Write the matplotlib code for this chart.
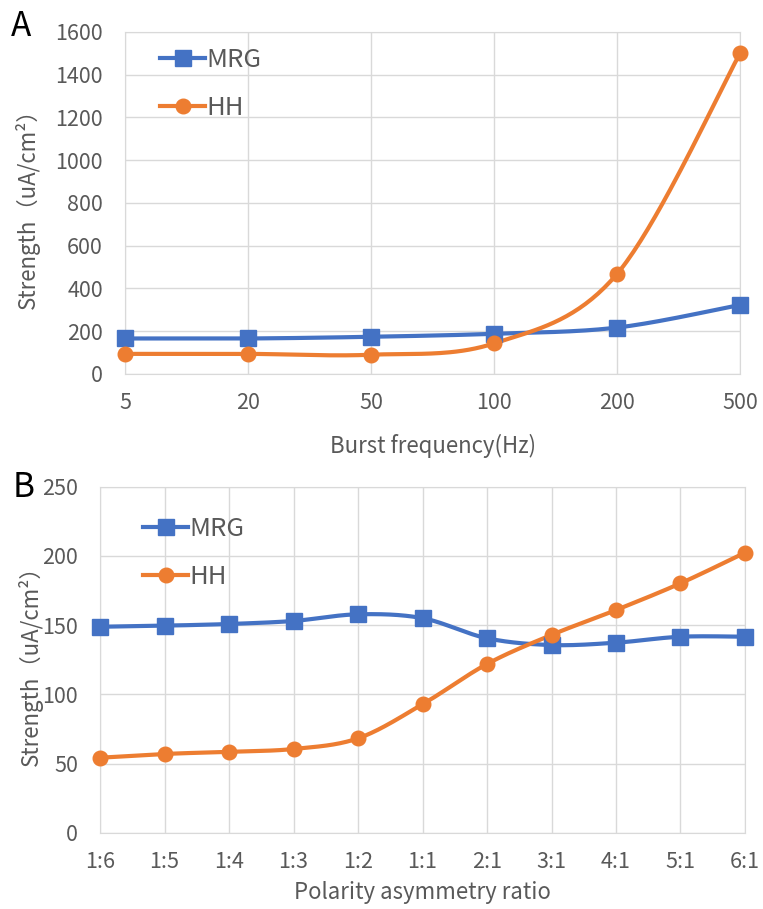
import matplotlib
matplotlib.use("Agg")
import matplotlib.pyplot as plt
from matplotlib.lines import Line2D
import numpy as np

plt.rcParams["font.family"] = ["Noto Sans CJK JP", "DejaVu Sans"]

BLUE = "#4472C4"
ORANGE = "#ED7D31"
GRID = "#D9D9D9"
TEXT = "#595959"

# panel A: burst frequency sweep
freq_labels = ["5", "20", "50", "100", "200", "500"]
freq_mrg = [166, 166, 174, 188, 217, 323]
freq_hh = [94, 94, 90, 143, 468, 1500]

# panel B: polarity asymmetry sweep
ratio_labels = ["1:6", "1:5", "1:4", "1:3", "1:2", "1:1", "2:1", "3:1", "4:1", "5:1", "6:1"]
ratio_mrg = [148.8, 149.6, 150.8, 153.0, 157.8, 155.0, 140.5, 135.6, 137.3, 141.6, 141.6]
ratio_hh = [54.2, 56.9, 58.5, 60.5, 68.2, 92.8, 121.9, 142.9, 160.9, 180.2, 202.3]


def smooth(y, n=40):
    """Catmull-Rom style bezier through the points (Excel 'smoothed line')."""
    p = np.column_stack([np.arange(len(y), dtype=float), np.asarray(y, float)])
    ext = np.vstack([p[0], p, p[-1]])
    out = []
    t = np.linspace(0, 1, n)[:, None]
    for i in range(len(p) - 1):
        p0, p1, p2, p3 = ext[i], ext[i + 1], ext[i + 2], ext[i + 3]
        c1 = p1 + (p2 - p0) / 6
        c2 = p2 - (p3 - p1) / 6
        seg = ((1 - t) ** 3 * p1 + 3 * (1 - t) ** 2 * t * c1
               + 3 * (1 - t) * t ** 2 * c2 + t ** 3 * p2)
        out.append(seg if i == 0 else seg[1:])
    seg = np.vstack(out)
    return seg[:, 0], seg[:, 1]


def panel(ax, labels, mrg, hh, ymax, ystep, xlabel, legend_xy):
    x = np.arange(len(labels))
    for vals, col, mk, ms in [(mrg, BLUE, "s", 11), (hh, ORANGE, "o", 10.5)]:
        sx, sy = smooth(vals)
        ax.plot(sx, sy, color=col, lw=3, solid_capstyle="round", clip_on=False, zorder=3)
        ax.plot(x, vals, ls="none", marker=mk, ms=ms, color=col, clip_on=False, zorder=4)
    ax.set_xlim(0, len(labels) - 1)
    ax.set_ylim(0, ymax)
    ax.set_xticks(x)
    ax.set_xticklabels(labels)
    ax.set_yticks(np.arange(0, ymax + 1, ystep))
    ax.grid(True, color=GRID, lw=1)
    ax.set_axisbelow(True)
    for s in ax.spines.values():
        s.set_color(GRID)
    ax.tick_params(length=0, labelsize=15.5, labelcolor=TEXT)
    ax.tick_params(axis="y", pad=16)
    ax.tick_params(axis="x", pad=13)
    ax.set_xlabel(xlabel, fontsize=16, color=TEXT)
    ax.set_ylabel("Strength（uA/cm²）", fontsize=16, color=TEXT)
    handles = [Line2D([], [], color=BLUE, lw=3, marker="s", ms=11),
               Line2D([], [], color=ORANGE, lw=3, marker="o", ms=10.5)]
    ax.legend(handles, ["MRG", "HH"], loc="upper left", bbox_to_anchor=legend_xy,
              frameon=False, fontsize=18.5, labelcolor=TEXT, handlelength=1.75,
              handletextpad=0.05, labelspacing=0.85, borderpad=0, borderaxespad=0)


fig = plt.figure(figsize=(7.63, 9.09), dpi=100)
ax_a = fig.add_axes([0.1638, 0.5886, 0.8061, 0.3762])
ax_b = fig.add_axes([0.1311, 0.0839, 0.8453, 0.3807])

panel(ax_a, freq_labels, freq_mrg, freq_hh, 1600, 200, "Burst frequency(Hz)", (0.057, 0.955))
panel(ax_b, ratio_labels, ratio_mrg, ratio_hh, 250, 50, "Polarity asymmetry ratio", (0.067, 0.915))

ax_a.xaxis.set_label_coords(0.5, -0.175)
ax_a.yaxis.set_label_coords(-0.138, 0.5)
ax_b.xaxis.set_label_coords(0.5, -0.140)
ax_b.yaxis.set_label_coords(-0.088, 0.5)

fig.text(0.014, 0.971, "A", fontsize=24, va="center", ha="left", color="black")
fig.text(0.017, 0.464, "B", fontsize=24, va="center", ha="left", color="black")

fig.savefig("out.png", dpi=100, facecolor="white")
